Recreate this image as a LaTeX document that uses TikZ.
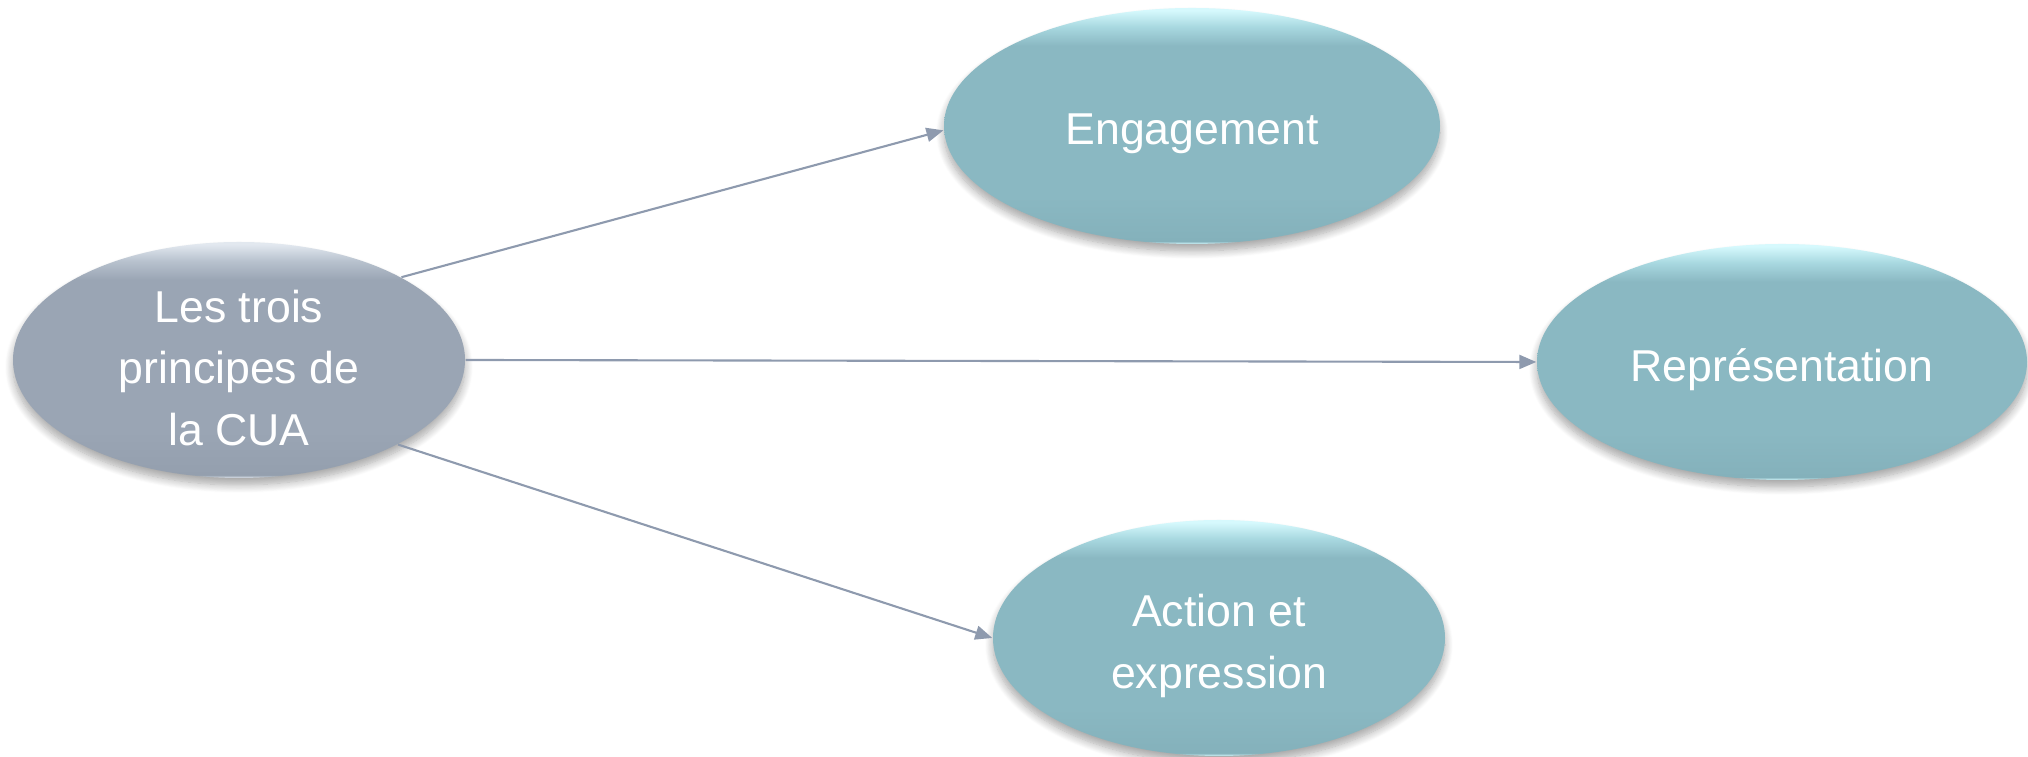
\documentclass[tikz,border=0pt]{standalone}
\usepackage{fontspec}
\setmainfont{Liberation Sans}
\usetikzlibrary{arrows.meta,shapes.geometric,shadows.blur}
\definecolor{tealbase}{HTML}{8AB8C2}
\definecolor{tealmid}{HTML}{A8D8E0}
\definecolor{teallight}{HTML}{D6F9FD}
\definecolor{tealdark}{HTML}{84B1BB}
\definecolor{graybase}{HTML}{9AA5B4}
\definecolor{graymid}{HTML}{B8C2CE}
\definecolor{graylight}{HTML}{E2E8EF}
\definecolor{graydark}{HTML}{949FAE}
\definecolor{flecheblue}{HTML}{8E9AAE}
\pgfdeclareverticalshading{tealbulle}{100bp}{color(0bp)=(teallight); color(25bp)=(teallight); color(25.6bp)=(tealdark); color(35bp)=(tealbase); color(67bp)=(tealbase); color(71bp)=(tealmid); color(74.5bp)=(teallight); color(100bp)=(teallight)}
\pgfdeclareverticalshading{graybulle}{100bp}{color(0bp)=(graylight); color(25bp)=(graylight); color(25.6bp)=(graydark); color(35bp)=(graybase); color(67bp)=(graybase); color(71bp)=(graymid); color(74.5bp)=(graylight); color(100bp)=(graylight)}

\begin{document}
\begin{tikzpicture}[>={Triangle[length=1.7mm,width=1.4mm]},
  bulle/.style={ellipse, inner sep=0pt,
    blur shadow={shadow xshift=0pt, shadow yshift=-0.7mm, shadow opacity=35, shadow blur radius=0.8mm, shadow blur steps=10}},
  texte/.style={align=center, text=white, yshift=-0.08cm,
    font=\fontsize{12.7}{17.6}\selectfont},
  fleche/.style={->, draw=flecheblue, fill=flecheblue, line width=0.6pt}]
\useasboundingbox (0,0) rectangle (20.28,7.57);
\node[bulle, shading=graybulle, minimum width=4.52cm, minimum height=2.36cm,
  label={[texte]center:{Les trois\\principes de\\la CUA}}] (cua) at (2.39,3.97) {};
\node[bulle, shading=tealbulle, minimum width=4.96cm, minimum height=2.36cm,
  label={[texte]center:Engagement}] (eng) at (11.92,6.31) {};
\node[bulle, shading=tealbulle, minimum width=4.90cm, minimum height=2.36cm,
  label={[texte]center:Représentation}] (rep) at (17.82,3.95) {};
\node[bulle, shading=tealbulle, minimum width=4.52cm, minimum height=2.36cm,
  label={[texte]center:{Action et\\expression}}] (act) at (12.19,1.19) {};
% fleches
\draw[fleche] (cua.27) -- (eng.181);
\draw[fleche] (cua.east) -- (rep.west);
\draw[fleche] (cua.-28) -- (act.west);
\end{tikzpicture}
\end{document}
